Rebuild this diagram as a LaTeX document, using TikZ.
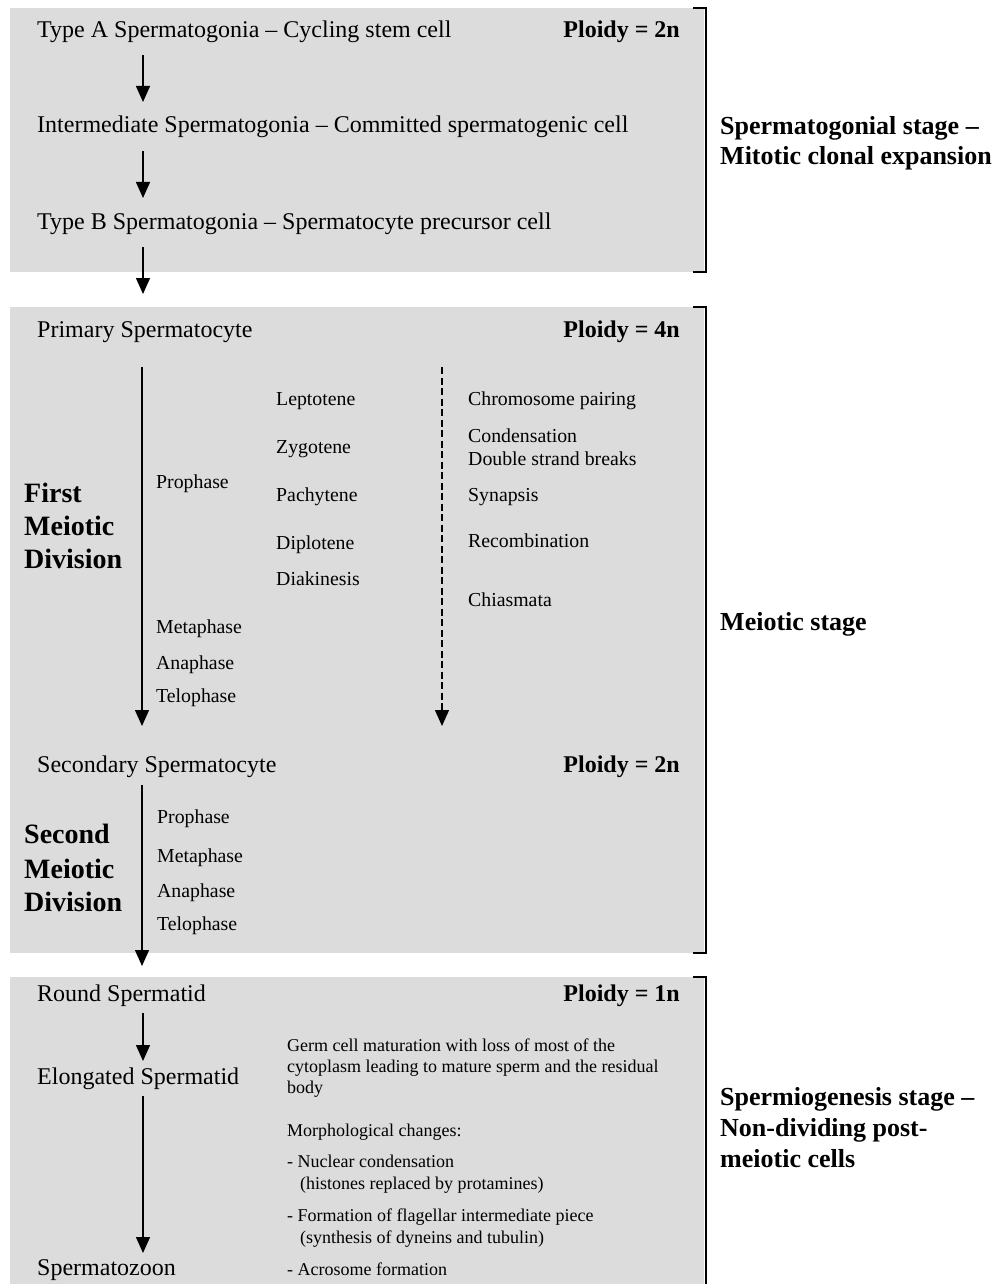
\documentclass[tikz,border=0pt]{standalone}
\usepackage{fontspec}
\setmainfont{Liberation Serif}
\usetikzlibrary{arrows.meta}
\definecolor{boxgray}{RGB}{220,220,220}
\tikzset{
  x=1pt, y=-1pt,
  stagebox/.style={fill=boxgray, draw=none},
  bracket/.style={draw=black, line width=1.5pt},
  arr/.style={line width=1.4pt, -{Triangle[width=14pt,length=16pt]}},
  darr/.style={line width=1.4pt, dash pattern=on 7pt off 3.5pt, -{Triangle[width=14pt,length=16pt]}},
  maintxt/.style={anchor=base west, inner sep=0pt, font=\fontsize{24}{28}\selectfont},
  ploidy/.style={anchor=base east, inner sep=0pt, font=\fontsize{24}{28}\selectfont\bfseries},
  divtxt/.style={anchor=base west, inner sep=0pt, font=\fontsize{28}{32}\selectfont\bfseries},
  phasetxt/.style={anchor=base west, inner sep=0pt, font=\fontsize{19.8}{23}\selectfont},
  smalltxt/.style={anchor=base west, inner sep=0pt, font=\fontsize{18}{21}\selectfont},
  stagetxt/.style={anchor=base west, inner sep=0pt, font=\fontsize{26}{30}\selectfont\bfseries}
}
\begin{document}
\begin{tikzpicture}
\useasboundingbox (0,0) rectangle (995,1284);
\begin{scope}
\clip (0,0) rectangle (995,1284);
% boxes
\fill[stagebox] (10,8) rectangle (704,272);
\fill[stagebox] (10,307) rectangle (704,953);
\fill[stagebox] (10,977) rectangle (704,1295);
% brackets
\draw[bracket] (693,8) -- (706,8) -- (706,272) -- (693,272);
\draw[bracket] (693,307) -- (706,307) -- (706,953) -- (693,953);
\draw[bracket] (693,977) -- (706,977) -- (706,1295);
\end{scope}

% ---------- Box 1 ----------
\node[maintxt] (tA) at (37,38) {Type A Spermatogonia – Cycling stem cell};
\node[ploidy] (p1) at (680,38) {Ploidy = 2n};
\node[maintxt] (tI) at (37,133) {Intermediate Spermatogonia – Committed spermatogenic cell};
\node[maintxt] (tB) at (37,229) {Type B Spermatogonia – Spermatocyte precursor cell};
\coordinate (a1s) at (143,55);  \coordinate (a1e) at (143,102);
\coordinate (a2s) at (143,151); \coordinate (a2e) at (143,198);
\coordinate (a3s) at (143,247); \coordinate (a3e) at (143,294);
\draw[arr] (a1s) -- (a1e);
\draw[arr] (a2s) -- (a2e);
\draw[arr] (a3s) -- (a3e);
\node[stagetxt] (s1a) at (720,135) {Spermatogonial stage –};
\node[stagetxt] (s1b) at (720,165) {Mitotic clonal expansion};

% ---------- Box 2 ----------
\node[maintxt] (prim) at (37,337) {Primary Spermatocyte};
\node[ploidy] (p2) at (680,337) {Ploidy = 4n};
\coordinate (m1s) at (142,367); \coordinate (m1e) at (142,726);
\coordinate (d1s) at (442,367); \coordinate (d1e) at (442,726);
\draw[arr] (m1s) -- (m1e);
\draw[darr] (d1s) -- (d1e);
\node[divtxt] (f1) at (24,502) {First};
\node[divtxt] (f2) at (24,535) {Meiotic};
\node[divtxt] (f3) at (24,568) {Division};
\node[phasetxt] (pro1) at (156,488) {Prophase};
\node[phasetxt] (met1) at (156,633) {Metaphase};
\node[phasetxt] (ana1) at (156,669) {Anaphase};
\node[phasetxt] (tel1) at (156,702) {Telophase};
\node[phasetxt] (lep) at (276,405) {Leptotene};
\node[phasetxt] (zyg) at (276,453) {Zygotene};
\node[phasetxt] (pac) at (276,501) {Pachytene};
\node[phasetxt] (dip) at (276,549) {Diplotene};
\node[phasetxt] (dia) at (276,585) {Diakinesis};
\node[phasetxt] (ev1) at (468,405) {Chromosome pairing};
\node[phasetxt] (ev2) at (468,442) {Condensation};
\node[phasetxt] (ev3) at (468,465) {Double strand breaks};
\node[phasetxt] (ev4) at (468,501) {Synapsis};
\node[phasetxt] (ev5) at (468,547) {Recombination};
\node[phasetxt] (ev6) at (468,606) {Chiasmata};

\node[maintxt] (sec) at (37,772) {Secondary Spermatocyte};
\node[ploidy] (p3) at (680,772) {Ploidy = 2n};
\coordinate (m2s) at (142,785); \coordinate (m2e) at (142,966);
\draw[arr] (m2s) -- (m2e);
\node[divtxt] (g1) at (24,843) {Second};
\node[divtxt] (g2) at (24,878) {Meiotic};
\node[divtxt] (g3) at (24,911) {Division};
\node[phasetxt] (pro2) at (157,823) {Prophase};
\node[phasetxt] (met2) at (157,862) {Metaphase};
\node[phasetxt] (ana2) at (157,897) {Anaphase};
\node[phasetxt] (tel2) at (157,930) {Telophase};
\node[stagetxt] (s2) at (720,630) {Meiotic stage};

% ---------- Box 3 ----------
\node[maintxt] (rnd) at (37,1001) {Round Spermatid};
\node[ploidy] (p4) at (680,1001) {Ploidy = 1n};
\node[maintxt] (elo) at (37,1084) {Elongated Spermatid};
\node[maintxt] (spz) at (37,1275) {Spermatozoon};
\coordinate (b1s) at (143,1013); \coordinate (b1e) at (143,1061);
\coordinate (b2s) at (143,1096); \coordinate (b2e) at (143,1253);
\draw[arr] (b1s) -- (b1e);
\draw[arr] (b2s) -- (b2e);
\node[smalltxt] (n1) at (287,1051) {Germ cell maturation with loss of most of the};
\node[smalltxt] (n2) at (287,1072) {cytoplasm leading to mature sperm and the residual};
\node[smalltxt] (n3) at (287,1093) {body};
\node[smalltxt] (n4) at (287,1136) {Morphological changes:};
\node[smalltxt] (n5) at (287,1167) {- Nuclear condensation};
\node[smalltxt] (n6) at (300,1189) {(histones replaced by protamines)};
\node[smalltxt] (n7) at (287,1221) {- Formation of flagellar intermediate piece};
\node[smalltxt] (n8) at (300,1243) {(synthesis of dyneins and tubulin)};
\node[smalltxt] (n9) at (287,1275) {- Acrosome formation};
\node[stagetxt] (s3a) at (720,1105) {Spermiogenesis stage –};
\node[stagetxt] (s3b) at (720,1136) {Non-dividing post-};
\node[stagetxt] (s3c) at (720,1167) {meiotic cells};
\end{tikzpicture}
\end{document}
